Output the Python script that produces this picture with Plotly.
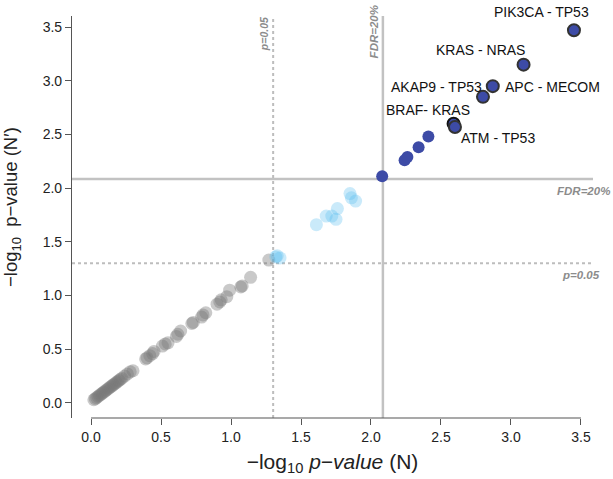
import plotly.graph_objects as go

# non-significant pairs (grey)
grey_x = [0.02, 0.03, 0.04, 0.05, 0.06, 0.07, 0.08, 0.09, 0.10, 0.11, 0.12, 0.13,
          0.14, 0.15, 0.16, 0.17, 0.18, 0.19, 0.20, 0.21, 0.22, 0.24, 0.26, 0.28,
          0.30, 0.39, 0.40, 0.42, 0.44, 0.45, 0.51, 0.53, 0.55, 0.61, 0.62, 0.64,
          0.72, 0.73, 0.79, 0.80, 0.82, 0.90, 0.92, 0.93, 0.97, 0.99, 1.07, 1.08,
          1.14, 1.27]
grey_y = [0.03, 0.04, 0.05, 0.06, 0.07, 0.08, 0.09, 0.10, 0.11, 0.12, 0.13, 0.14,
          0.15, 0.16, 0.17, 0.18, 0.19, 0.20, 0.21, 0.22, 0.23, 0.25, 0.27, 0.29,
          0.30, 0.41, 0.42, 0.44, 0.46, 0.48, 0.53, 0.55, 0.56, 0.62, 0.64, 0.67,
          0.74, 0.75, 0.80, 0.82, 0.84, 0.92, 0.94, 0.96, 0.99, 1.05, 1.08, 1.09,
          1.17, 1.33]

# nominally significant pairs (light blue)
lblue_x = [1.32, 1.33, 1.35, 1.61, 1.68, 1.72, 1.75, 1.76, 1.85, 1.86, 1.89]
lblue_y = [1.36, 1.37, 1.35, 1.66, 1.74, 1.74, 1.71, 1.81, 1.95, 1.91, 1.88]

# FDR-significant pairs (dark blue)
dblue_x = [2.08, 2.24, 2.26, 2.34, 2.41]
dblue_y = [2.11, 2.26, 2.29, 2.38, 2.48]

# labelled pairs
pair_names = ["PIK3CA - TP53", "KRAS - NRAS", "APC - MECOM", "AKAP9 - TP53",
              "BRAF- KRAS", "ATM - TP53"]
pair_x = [3.45, 3.09, 2.87, 2.80, 2.59, 2.60]
pair_y = [3.47, 3.15, 2.95, 2.85, 2.60, 2.57]
pair_edge = ["#333333", "#333333", "#333333", "#333333", "#111111", "#333333"]
label_x = [3.22, 2.78, 2.94, 2.81, 2.41, 2.63]
label_y = [3.47, 3.29, 2.94, 2.94, 2.73, 2.47]
label_shift = [18, 0, 0, 0, 0, 0]
label_anchor = ["center", "center", "left", "right", "center", "left"]

p05 = 1.301
fdr20 = 2.085

fig = go.Figure()
fig.add_trace(go.Scatter(
    x=grey_x, y=grey_y, mode="markers",
    marker=dict(size=13, color="rgba(120,120,120,0.4)", line=dict(width=0)),
    showlegend=False,
))
fig.add_trace(go.Scatter(
    x=lblue_x, y=lblue_y, mode="markers",
    marker=dict(size=13, color="rgba(90,190,238,0.32)", line=dict(width=0)),
    showlegend=False,
))
fig.add_trace(go.Scatter(
    x=dblue_x, y=dblue_y, mode="markers",
    marker=dict(size=12, color="#3d4ba6", line=dict(width=0)),
    showlegend=False,
))
fig.add_trace(go.Scatter(
    x=pair_x, y=pair_y, mode="markers",
    marker=dict(size=12, color="#3d4ba6", line=dict(width=2, color=pair_edge)),
    showlegend=False,
))

for name, lx, ly, sh, anc in zip(pair_names, label_x, label_y, label_shift, label_anchor):
    fig.add_annotation(x=lx, y=ly, text=name, showarrow=False, xanchor=anc,
                       yanchor="middle", yshift=sh, font=dict(size=14, color="#111111"))

# threshold lines
line_fdr = dict(color="#c2c2c2", width=2.5)
line_p = dict(color="#bdbdbd", width=2, dash="dot")
fig.add_shape(type="line", xref="x", yref="paper", x0=fdr20, x1=fdr20, y0=0, y1=1, line=line_fdr, layer="below")
fig.add_shape(type="line", xref="paper", yref="y", x0=0, x1=1, y0=fdr20, y1=fdr20, line=line_fdr, layer="below")
fig.add_shape(type="line", xref="x", yref="paper", x0=p05, x1=p05, y0=0, y1=1, line=line_p, layer="below")
fig.add_shape(type="line", xref="paper", yref="y", x0=0, x1=1, y0=p05, y1=p05, line=line_p, layer="below")

# x axis line only across tick range
fig.add_shape(type="line", xref="x", yref="paper", x0=0, x1=3.5, y0=0, y1=0,
              line=dict(color="#555555", width=1.2))

thr_font = dict(size=11.5, color="#8c8c8c")
fig.add_annotation(x=fdr20, y=1.0, xref="x", yref="paper", text="<b><i>FDR=20%</i></b>",
                   showarrow=False, textangle=-90, xanchor="right", yanchor="top",
                   xshift=-1, yshift=13, font=thr_font)
fig.add_annotation(x=p05, y=1.0, xref="x", yref="paper", text="<b><i>p=0.05</i></b>",
                   showarrow=False, textangle=-90, xanchor="right", yanchor="top",
                   xshift=-1, yshift=1, font=dict(size=10.5, color="#8c8c8c"))
fig.add_annotation(x=1.0, y=fdr20, xref="paper", yref="y", text="<b><i>FDR=20%</i></b>",
                   showarrow=False, xanchor="right", yanchor="top", xshift=19,
                   yshift=-4, font=thr_font)
fig.add_annotation(x=1.0, y=p05, xref="paper", yref="y", text="<b><i>p=0.05</i></b>",
                   showarrow=False, xanchor="right", yanchor="top", xshift=9,
                   yshift=-4, font=thr_font)

# y title as an annotation so it can sit a bit above the plot centre
fig.add_annotation(x=0, y=0.525, xref="paper", yref="paper",
                   text="−log<sub>10</sub>  p−value (N′)", showarrow=False,
                   textangle=-90, xanchor="center", yanchor="middle", xshift=-60,
                   font=dict(size=18.5, color="#222222"))

tick_vals = [0.0, 0.5, 1.0, 1.5, 2.0, 2.5, 3.0, 3.5]
tick_text = ["0.0", "0.5", "1.0", "1.5", "2.0", "2.5", "3.0", "3.5"]

fig.update_layout(
    width=613, height=479,
    margin=dict(l=72, r=20, t=16, b=61, autoexpand=False),
    template="plotly_white",
    plot_bgcolor="white",
    paper_bgcolor="white",
    font=dict(family="Liberation Sans, Arial, sans-serif", color="#222222"),
    xaxis=dict(
        range=[-0.136, 3.586], showgrid=False, zeroline=False, showline=False,
        automargin=False,
        tickvals=tick_vals, ticktext=tick_text, ticks="outside", ticklen=6,
        tickcolor="#555555", tickwidth=1.2, tickfont=dict(size=14),
        title=dict(text="−log<sub>10</sub> <i>p−value</i> (N)", font=dict(size=21), standoff=10),
    ),
    yaxis=dict(
        range=[-0.14, 3.603], showgrid=False, zeroline=False, showline=True,
        automargin=False,
        linecolor="#555555", linewidth=1.2,
        tickvals=tick_vals, ticktext=tick_text, ticks="outside", ticklen=6,
        tickcolor="#555555", tickwidth=1.2, tickfont=dict(size=14),
    ),
)

# drop the default body margin so the figure sits at the window's corner
fig.write_html("out.html", config={"displayModeBar": False},
               post_script="document.body.style.margin='0';")
